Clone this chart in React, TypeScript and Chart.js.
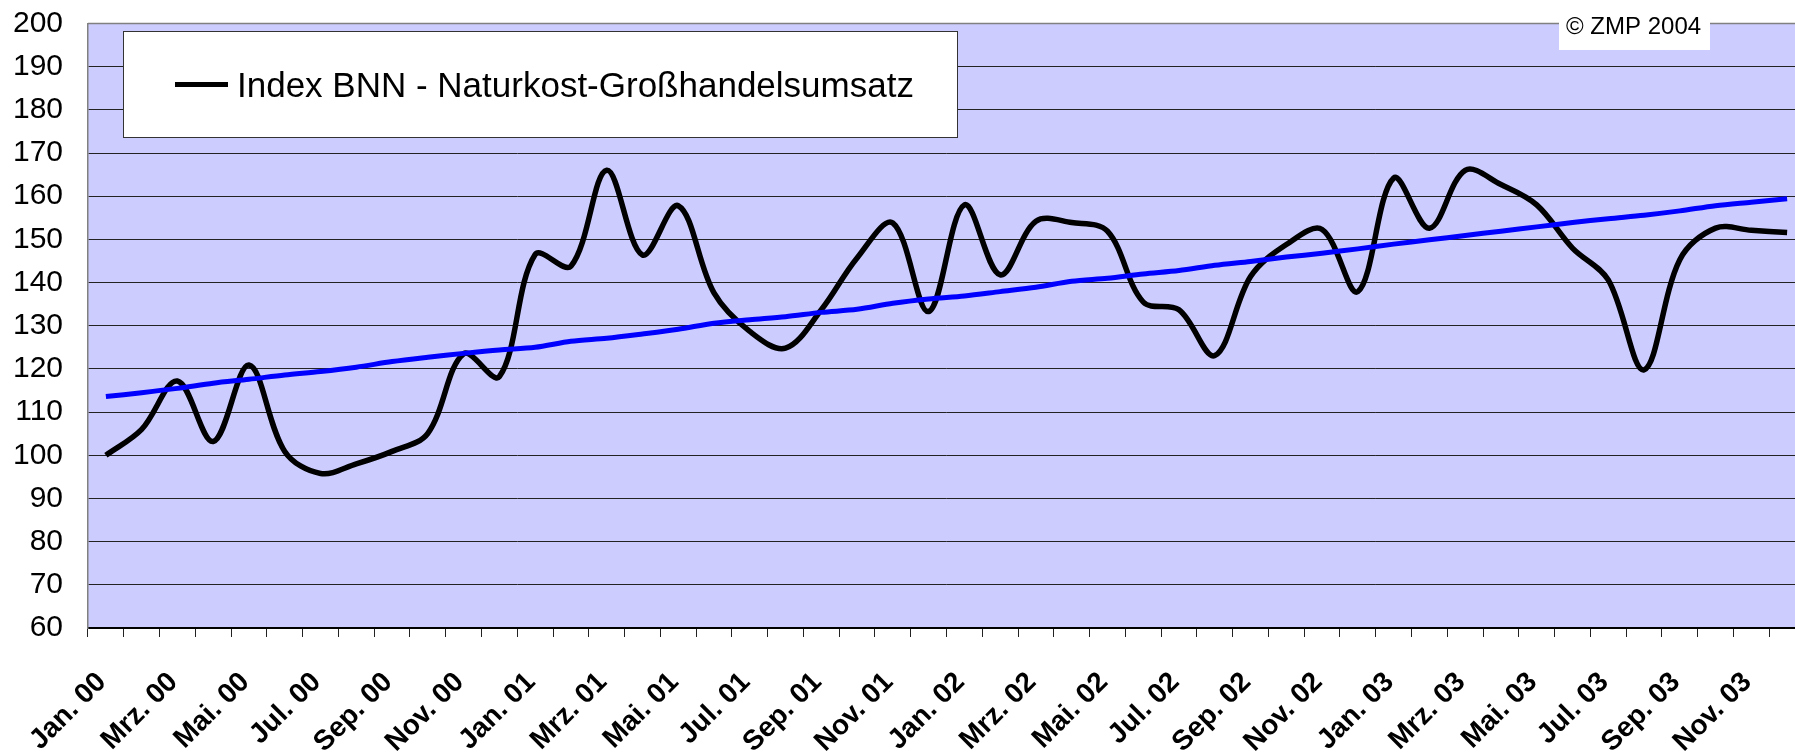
import React, { useEffect, useRef } from 'react';
import { Chart, registerables } from 'chart.js';

Chart.register(...registerables);

const categories = [
  'Jan. 00', 'Feb. 00', 'Mrz. 00', 'Apr. 00', 'Mai. 00', 'Jun. 00', 'Jul. 00', 'Aug. 00', 'Sep. 00', 'Okt. 00', 'Nov. 00', 'Dez. 00',
  'Jan. 01', 'Feb. 01', 'Mrz. 01', 'Apr. 01', 'Mai. 01', 'Jun. 01', 'Jul. 01', 'Aug. 01', 'Sep. 01', 'Okt. 01', 'Nov. 01', 'Dez. 01',
  'Jan. 02', 'Feb. 02', 'Mrz. 02', 'Apr. 02', 'Mai. 02', 'Jun. 02', 'Jul. 02', 'Aug. 02', 'Sep. 02', 'Okt. 02', 'Nov. 02', 'Dez. 02',
  'Jan. 03', 'Feb. 03', 'Mrz. 03', 'Apr. 03', 'Mai. 03', 'Jun. 03', 'Jul. 03', 'Aug. 03', 'Sep. 03', 'Okt. 03', 'Nov. 03', 'Dez. 03',
];

const indexValues = [
  100.0, 106.0, 117.2, 103.2, 120.9, 100.9, 95.8, 98.0, 100.9, 105.1, 123.5, 118.2,
  146.5, 143.8, 166.0, 146.4, 157.8, 137.6, 128.7, 124.8, 133.7, 145.7, 153.8, 133.3,
  158.0, 141.8, 154.2, 153.9, 151.9, 135.5, 133.7, 123.1, 141.4, 148.8, 152.3, 137.9,
  164.2, 152.6, 166.0, 162.7, 158.0, 148.0, 140.6, 119.8, 145.3, 152.6, 152.1, 151.6,
];

const trendValues = [
  113.6, 114.5, 115.5, 116.7, 117.6, 118.6, 119.4, 120.4, 121.7, 122.7, 123.6, 124.4,
  125.0, 126.4, 127.1, 128.1, 129.2, 130.6, 131.4, 132.1, 133.1, 133.8, 135.2, 136.2,
  136.9, 137.9, 138.9, 140.3, 141.0, 142.0, 142.8, 144.0, 144.9, 145.9, 146.8, 147.8,
  148.9, 149.9, 150.9, 151.9, 152.9, 153.9, 154.8, 155.6, 156.6, 157.8, 158.6, 159.4,
];

const seriesLabel = 'Index BNN - Naturkost-Großhandelsumsatz';
const trendLabel = 'Trend';
const copyrightText = '© ZMP 2004';
const yMin = 60;
const yMax = 200;
const yStep = 10;

const FONT = "'Liberation Sans', Arial, Helvetica, sans-serif";

const decorPlugin = {
  id: 'decor',
  beforeDraw(chart: any) {
    const { ctx, chartArea: a } = chart;
    ctx.save();
    ctx.fillStyle = '#CCCCFF';
    ctx.fillRect(a.left, a.top, a.right - a.left, a.bottom - a.top);
    ctx.restore();
  },
  afterDraw(chart: any) {
    const { ctx, chartArea: a } = chart;
    ctx.save();
    ctx.strokeStyle = '#808080';
    ctx.lineWidth = 1.5;
    ctx.beginPath();
    ctx.moveTo(a.left, a.top);
    ctx.lineTo(a.right, a.top);
    ctx.stroke();

    const lx = 123.5, ly = 31.5, lw = 834, lh = 106;
    ctx.fillStyle = '#FFFFFF';
    ctx.fillRect(lx, ly, lw, lh);
    ctx.strokeStyle = '#333333';
    ctx.lineWidth = 1;
    ctx.strokeRect(lx, ly, lw, lh);
    const ds = chart.data.datasets[0];
    ctx.strokeStyle = ds.borderColor;
    ctx.lineWidth = 5;
    ctx.lineCap = 'butt';
    ctx.beginPath();
    ctx.moveTo(175, 84.5);
    ctx.lineTo(228, 84.5);
    ctx.stroke();
    ctx.fillStyle = '#000000';
    ctx.font = `35px ${FONT}`;
    ctx.textAlign = 'left';
    ctx.textBaseline = 'alphabetic';
    ctx.fillText(ds.label, 237, 97);

    ctx.fillStyle = '#FFFFFF';
    ctx.fillRect(1559, 0, 151, 50);
    ctx.fillStyle = '#000000';
    ctx.font = `24px ${FONT}`;
    ctx.fillText(copyrightText, 1566, 34);
    ctx.restore();
  },
};

export default function App() {
  const ref = useRef<HTMLCanvasElement | null>(null);

  useEffect(() => {
    if (!ref.current) return;
    const chart = new Chart(ref.current, {
      type: 'line',
      data: {
        labels: categories,
        datasets: [
          {
            label: seriesLabel,
            data: indexValues,
            borderColor: '#000000',
            borderWidth: 5.5,
            pointRadius: 0,
            tension: 0.35,
            fill: false,
            order: 1,
          },
          {
            label: trendLabel,
            data: trendValues,
            borderColor: '#0000FF',
            borderWidth: 5,
            pointRadius: 0,
            tension: 0.3,
            fill: false,
            order: 0,
          },
        ],
      },
      options: {
        responsive: false,
        animation: false,
        layout: { padding: { top: 23.5, left: 0, right: 0, bottom: 0 } },
        plugins: {
          legend: { display: false },
          tooltip: { enabled: false },
        },
        scales: {
          x: {
            type: 'category',
            offset: true,
            grid: {
              display: true,
              offset: true,
              drawOnChartArea: false,
              drawTicks: true,
              tickLength: 9,
              color: '#222222',
              lineWidth: 1,
            },
            border: { display: true, color: '#000000', width: 2 },
            ticks: {
              autoSkip: false,
              maxRotation: 45,
              minRotation: 45,
              padding: 29,
              labelOffset: -4,
              color: '#000000',
              font: { family: FONT, size: 28, weight: 'bold' },
              callback: (_v: any, i: number) => (i % 2 === 0 ? categories[i] : ''),
            },
            afterFit: (scale: any) => {
              scale.height = 127;
              scale.paddingLeft = 0;
              scale.paddingRight = 0;
            },
          },
          y: {
            min: yMin,
            max: yMax,
            grid: {
              color: '#222222',
              lineWidth: 1,
              drawTicks: false,
            },
            border: { display: true, color: '#808080', width: 1.5 },
            ticks: {
              stepSize: yStep,
              padding: 25,
              color: '#000000',
              font: { family: FONT, size: 30 },
            },
            afterFit: (scale: any) => {
              scale.width = 88;
              scale.paddingTop = 0;
              scale.paddingBottom = 0;
            },
          },
        },
      },
      plugins: [decorPlugin],
    });
    return () => chart.destroy();
  }, []);

  return (
    <div style={{ position: 'fixed', left: 0, top: 0, width: 1795, height: 755, overflow: 'hidden', background: '#FFFFFF' }}>
      <canvas ref={ref} width={1805} height={755} style={{ display: 'block' }} />
    </div>
  );
}
